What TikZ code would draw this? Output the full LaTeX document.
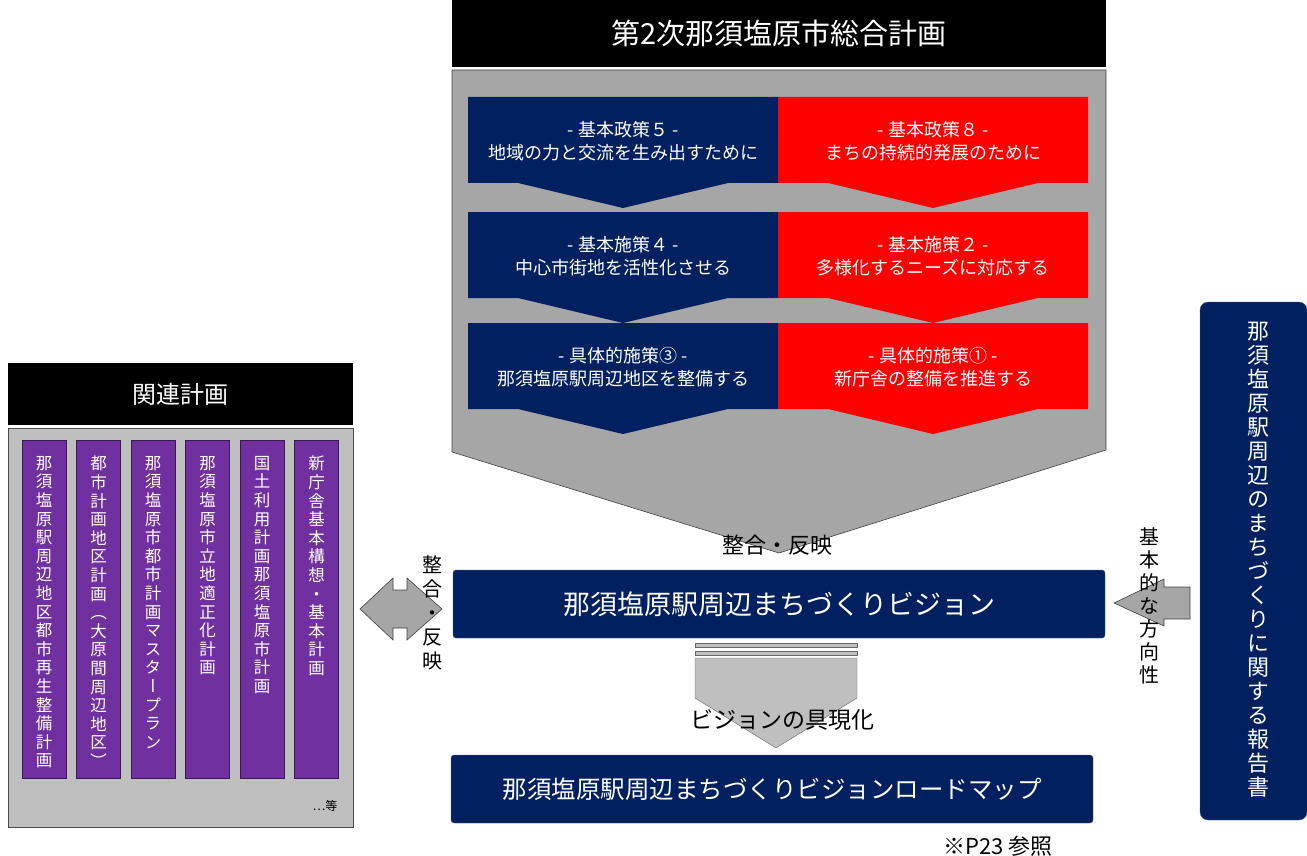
\documentclass[tikz,border=0pt]{standalone}
\usepackage{fontspec}
\setmainfont{Noto Sans CJK JP}
\newfontfamily\tatefont[RawFeature=+vert]{Noto Sans CJK JP}
\usepackage{tikz}
\usetikzlibrary{positioning}
\pgfdeclarelayer{background layer}
\pgfsetlayers{background layer,main}
\definecolor{navy}{HTML}{002060}
\definecolor{planred}{HTML}{FF0000}
\definecolor{purp}{HTML}{7030A0}
\definecolor{midgray}{HTML}{A6A6A6}
\definecolor{ltgray}{HTML}{BFBFBF}
\makeatletter
\def\tate@end{}
\newcommand{\tate}[1]{\vbox{\tatefont\expandafter\tate@loop#1\tate@end}}
\def\tate@loop#1{\ifx#1\tate@end\else\hbox to 1em{\hss#1\hss}\expandafter\tate@loop\fi}
\makeatother

\begin{document}
\begin{tikzpicture}[x=1pt,y=-1pt]
\tikzstyle{navybox}=[fill=navy,draw=navy!70!white,rounded corners=3pt,text=white,inner sep=0pt]
\tikzstyle{blackbar}=[fill=black,text=white,inner sep=0pt]
\tikzstyle{blocktext}=[text=white,align=center,inner sep=0pt,font=\fontsize{18}{23}\selectfont]
\tikzstyle{plancol}=[fill=purp,draw=purp!50!black,inner sep=0pt,minimum width=44pt,minimum height=338pt]
\tikzstyle{coltext}=[anchor=north,text=white,inner sep=0pt,font=\fontsize{16.5}{18.6}\selectfont]
\tikzstyle{blockarrow}=[fill=midgray,draw=black!75,line width=0.6pt]
\useasboundingbox (0,0) rectangle (1307,856);
\node [blackbar,minimum width=654pt,minimum height=67pt,font=\fontsize{29}{29}\selectfont] (plan) at (779,33.5) {第2次那須塩原市総合計画};
\draw [blockarrow] (452,70) -- (1106,70) -- (1106,450) -- (779,553) -- (452,452) -- cycle;
\foreach \yt/\la/\lb/\ra/\rb in {97/{- 基本政策５ -}/{地域の力と交流を生み出すために}/{- 基本政策８ -}/{まちの持続的発展のために},
  212/{- 基本施策４ -}/{中心市街地を活性化させる}/{- 基本施策２ -}/{多様化するニーズに対応する},
  323/{- 具体的施策③ -}/{那須塩原駅周辺地区を整備する}/{- 具体的施策① -}/{新庁舎の整備を推進する}}{
  \fill [navy] (468,\yt) -- (778,\yt) -- (778,{\yt+86}) -- (728,{\yt+86}) -- (623,{\yt+111}) -- (518,{\yt+86}) -- (468,{\yt+86}) -- cycle;
  \fill [planred] (778,\yt) -- (1088,\yt) -- (1088,{\yt+86}) -- (1038,{\yt+86}) -- (933,{\yt+111}) -- (828,{\yt+86}) -- (778,{\yt+86}) -- cycle;
  \node [blocktext] (l\yt) at (623,{\yt+44}) {\la\\\lb};
  \node [blocktext] (r\yt) at (933,{\yt+44}) {\ra\\\rb};
}
\node [inner sep=0pt,font=\fontsize{22}{22}\selectfont] (match) at (777,545) {整合・反映};
\node [navybox,minimum width=652pt,minimum height=68pt,font=\fontsize{27}{27}\selectfont] (vision) at (779,604) {那須塩原駅周辺まちづくりビジョン};
\filldraw [fill=ltgray,draw=black!60] (695,643) rectangle (857,647);
\filldraw [fill=ltgray,draw=black!60] (695,651) rectangle (857,655);
\filldraw [fill=ltgray,draw=black!60] (695,658) -- (857,658) -- (857,698) -- (776,748) -- (695,698) -- cycle;
\node [inner sep=0pt,font=\fontsize{23}{23}\selectfont] (real) at (782,720) {ビジョンの具現化};
\node [navybox,minimum width=642pt,minimum height=68pt,font=\fontsize{24.5}{24.5}\selectfont] (roadmap) at (772,789) {那須塩原駅周辺まちづくりビジョンロードマップ};
\node [inner sep=0pt,font=\fontsize{22}{22}\selectfont] (ref) at (998,846) {※P23 参照};
\node [blackbar,minimum width=345pt,minimum height=62pt,font=\fontsize{24}{24}\selectfont] (relh) at (180.5,394) {関連計画};
\begin{pgfonlayer}{background layer}
\node [fill=ltgray,draw=black!70,inner sep=0pt,minimum width=345pt,minimum height=399pt] (rel) at (180.5,627.5) {};
\end{pgfonlayer}
\foreach \i/\colname in {0/那須塩原駅周辺地区都市再生整備計画,1/都市計画地区計画（大原間周辺地区）,2/那須塩原市都市計画マスタープラン,3/那須塩原市立地適正化計画,4/国土利用計画那須塩原市計画,5/新庁舎基本構想・基本計画}{
  \node [plancol] (c\i) at ({44+54.5*\i},609) {};
  \node [coltext] (ct\i) at ({44+54.5*\i},456) {\tate{\colname}};
}
\node [inner sep=0pt,font=\fontsize{12}{12}\selectfont] (etc) at (325,806) {…等};
\draw [blockarrow] (360,609) -- (393,578) -- (393,590) -- (407,590) -- (407,578) -- (442,609) -- (407,640) -- (407,628) -- (393,628) -- (393,640) -- cycle;
\node [coltext,text=black,font=\fontsize{20}{24}\selectfont] (matchl) at (432,555) {\tate{整合・反映}};
\node [navybox,rounded corners=8pt,minimum width=107pt,minimum height=518pt] (report) at (1253.5,561) {};
\node [coltext,font=\fontsize{22}{24}\selectfont] (reportt) at (1258,322) {\tate{那須塩原駅周辺のまちづくりに関する報告書}};
\draw [blockarrow] (1114,603) -- (1164,579) -- (1164,587) -- (1190,587) -- (1190,619) -- (1164,619) -- (1164,626) -- cycle;
\node [coltext,text=black,font=\fontsize{20}{23}\selectfont] (dir) at (1149,527) {\tate{基本的な方向性}};
\end{tikzpicture}
\end{document}
